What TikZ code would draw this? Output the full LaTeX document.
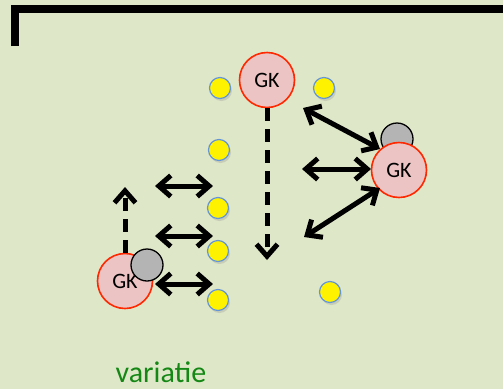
\documentclass[tikz,border=0pt]{standalone}
\usepackage{fontspec}
\setmainfont{Carlito}
\usetikzlibrary{arrows.meta,shadows}
\definecolor{pitch}{RGB}{223,231,201}
\definecolor{gkfill}{RGB}{236,196,196}
\definecolor{gkline}{RGB}{255,40,0}
\definecolor{coneline}{RGB}{100,150,215}
\definecolor{ballfill}{RGB}{180,180,180}
\definecolor{labelgreen}{RGB}{20,135,20}
\tikzset{
  barb/.tip={Straight Barb[length=12pt,width=21pt,line width=5pt]},
  keeper/.style={circle, draw=gkline, line width=1.6pt, fill=gkfill,
    minimum size=55pt, inner sep=0pt, font=\fontsize{22}{22}\selectfont},
  cone/.style={circle, draw=coneline, line width=1.2pt, fill=yellow,
    minimum size=21pt, inner sep=0pt,
    drop shadow={opacity=0.25, shadow xshift=1.5pt, shadow yshift=-2.5pt}},
  ball/.style={circle, draw=black, line width=1.3pt, fill=ballfill,
    minimum size=32pt, inner sep=0pt},
  move/.style={line width=5pt, barb-barb},
  run/.style={line width=5pt, dash pattern=on 13pt off 8pt, -barb},
  goal/.style={line width=8pt, line cap=butt}
}
\begin{document}
\begin{tikzpicture}[x=1pt,y=-1pt]
  \fill[pitch] (0,0) rectangle (503,389);
  \useasboundingbox (0,0) rectangle (503,389);

  % goal line
  \coordinate (g1) at (14.5,46);
  \coordinate (g2) at (14.5,9);
  \coordinate (g3) at (503,9);
  \draw[goal] (g1) -- (g2) -- (g3);
  \fill (g2) ++(-3.5,-4) rectangle ++(7,8);

  % cones
  \node[cone] (c1) at (220,88) {};
  \node[cone] (c2) at (324,88) {};
  \node[cone] (c3) at (219,150) {};
  \node[cone] (c4) at (218,208) {};
  \node[cone] (c5) at (218,251) {};
  \node[cone] (c6) at (218,300) {};
  \node[cone] (c7) at (330,292) {};

  % ball behind the right keeper
  \node[ball] (b1) at (397,139) {};

  % keepers
  \node[keeper] (k1) at (267,80) {GK};
  \node[keeper] (k2) at (399,170) {GK};
  \node[keeper] (k3) at (125,281) {GK};

  % ball in front of the left keeper
  \node[ball] (b2) at (147,265) {};

  % movement targets
  \coordinate (t1) at (267,260);
  \coordinate (t2) at (125,187);
  \coordinate (l1a) at (155,186);
  \coordinate (l1b) at (213,186);
  \coordinate (l2a) at (155,236);
  \coordinate (l2b) at (213,236);
  \coordinate (l3a) at (155,284);
  \coordinate (l3b) at (213,284);
  \coordinate (r1a) at (303,108);
  \coordinate (r1b) at (380,149);
  \coordinate (r2a) at (302,169);
  \coordinate (r2b) at (371,169);
  \coordinate (r3a) at (304,237);
  \coordinate (r3b) at (380,188);

  % runs
  \draw[run] (k1.south) -- (t1);
  \draw[run] (k3.north) -- (t2);

  % shuffles
  \draw[move] (l1a) -- (l1b);
  \draw[move] (l2a) -- (l2b);
  \draw[move] (l3a) -- (l3b);
  \draw[move] (r1a) -- (r1b);
  \draw[move] (r2a) -- (r2b);
  \draw[move] (r3a) -- (r3b);

  \node[text=labelgreen, font=\fontsize{30}{30}\selectfont, anchor=base] (lbl) at (161,382) {variatie};
\end{tikzpicture}
\end{document}
